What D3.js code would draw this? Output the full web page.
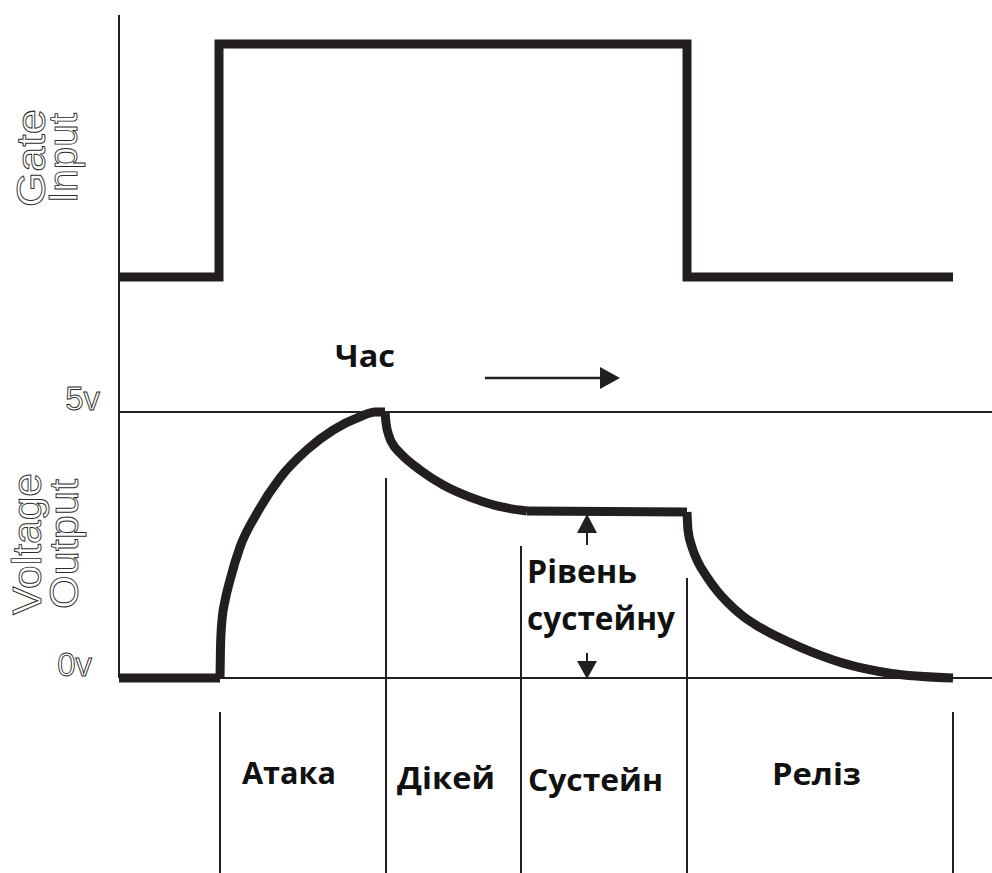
<!DOCTYPE html>
<html>
<head>
<meta charset="utf-8">
<script src="https://cdn.jsdelivr.net/npm/d3@7"></script>
<style>
  body { margin: 0; background: #fff; }
  svg { display: block; }
  .outline { font-family: "Liberation Sans", Arial, sans-serif; fill: #fff; stroke: #2a2a2a; stroke-width: 0.9px; }
  .bold { font-family: "Open Sans", "Noto Sans", sans-serif; font-weight: 700; fill: #111; }
</style>
</head>
<body>
<div id="chart"></div>
<script>
// часові точки в мс (1 мс = 1 px), напруга у вольтах
const gatePts = [[0, 0], [100, 0], [100, 1], [568, 1], [568, 0], [834, 0]];

const idlePts = [[0, 0], [101, 0]];
const attackPts = [[101, 0], [101.5, 0.58], [103, 1.09], [106, 1.45], [111, 1.84], [121, 2.46],
  [138, 3.10], [161, 3.76], [188, 4.29], [214, 4.66], [241, 4.91], [256, 5.0], [266, 5.0]];
const decayPts = [[266, 5.0], [267, 4.8], [270, 4.55], [275, 4.36], [281, 4.23], [301, 3.91],
  [324, 3.63], [351, 3.40], [384, 3.21], [408, 3.14]];
const sustainPts = [[408, 3.14], [568, 3.12]];
const releasePts = [[568, 3.12], [569, 2.78], [573, 2.46], [579, 2.18], [588, 1.90], [598, 1.64],
  [608, 1.43], [624, 1.16], [641, 0.95], [681, 0.58], [724, 0.28], [771, 0.09], [834, 0]];

const phaseBounds = [101, 267, 402, 568, 834];
const phaseNames = ["Атака", "Дікей", "Сустейн", "Реліз"];
const voltTicks = [0, 5];
const sustainLevel = 3.12;

const width = 992, height = 873;
const ink = "#231f20";

const svg = d3.select("#chart").append("svg")
  .attr("width", width).attr("height", height);

const x = d3.scaleLinear().domain([0, 834]).range([119, 953]);
const yGate = d3.scaleLinear().domain([0, 1]).range([277, 44]);
const yV = d3.scaleLinear().domain([0, 5]).range([678, 412]);

// ліва вісь
svg.append("line").attr("x1", x(0)).attr("x2", x(0)).attr("y1", 15).attr("y2", yV(0))
  .attr("stroke", ink).attr("stroke-width", 2);

// рівні 0v / 5v
svg.selectAll(".vline").data(voltTicks).join("line").attr("class", "vline")
  .attr("x1", x(0)).attr("x2", width)
  .attr("y1", d => yV(d)).attr("y2", d => yV(d))
  .attr("stroke", ink).attr("stroke-width", 2);

svg.selectAll(".vlabel").data(voltTicks).join("text").attr("class", "vlabel outline")
  .attr("x", d => d === 5 ? 100 : 92)
  .attr("y", d => yV(d) - 2)
  .attr("text-anchor", "end")
  .style("font-size", "33px")
  .text(d => d + "v");

// вертикальні розділювачі фаз
const dividerTop = [712, 478, 546, 578, 712];
svg.selectAll(".divider").data(phaseBounds).join("line").attr("class", "divider")
  .attr("x1", d => x(d)).attr("x2", d => x(d))
  .attr("y1", (d, i) => dividerTop[i]).attr("y2", height)
  .attr("stroke", ink).attr("stroke-width", 2);

// сигнал gate
const line = d3.line().x(d => x(d[0])).y(d => yGate(d[1]));
svg.append("path").datum(gatePts).attr("d", line)
  .attr("fill", "none").attr("stroke", ink).attr("stroke-width", 9)
  .attr("stroke-linejoin", "miter");

// огинаюча
const env = d3.line().x(d => x(d[0])).y(d => yV(d[1])).curve(d3.curveMonotoneX);
[idlePts, attackPts, decayPts, sustainPts, releasePts].forEach(pts => {
  svg.append("path").datum(pts).attr("d", env)
    .attr("fill", "none").attr("stroke", ink).attr("stroke-width", 9)
    .attr("stroke-linejoin", "round");
});

// підписи осей
function axisLabel(lines, cy, xs, lens) {
  lines.forEach((t, i) => {
    svg.append("text").attr("class", "outline")
      .attr("transform", `translate(${xs[i]},${cy}) rotate(-90)`)
      .attr("text-anchor", "middle")
      .attr("textLength", lens[i]).attr("lengthAdjust", "spacingAndGlyphs")
      .style("font-size", "40px")
      .text(t);
  });
}
axisLabel(["Gate", "Input"], 158, [45, 77], [98, 90]);
axisLabel(["Voltage", "Output"], 544, [41, 78], [142, 130]);

// час →
svg.append("text").attr("class", "bold")
  .attr("x", 335).attr("y", 367).attr("textLength", 60).attr("lengthAdjust", "spacingAndGlyphs")
  .style("font-size", "31px").text("Час");

svg.append("line").attr("x1", 485).attr("x2", 604).attr("y1", 378).attr("y2", 378)
  .attr("stroke", ink).attr("stroke-width", 2.5);
svg.append("path").attr("d", "M600,367 L620,378 L600,389 Z").attr("fill", ink);

// рівень сустейну
const sx = x(468);
svg.append("line").attr("x1", sx).attr("x2", sx).attr("y1", yV(sustainLevel) + 18).attr("y2", 545)
  .attr("stroke", ink).attr("stroke-width", 2);
svg.append("path").attr("d", `M${sx},${yV(sustainLevel) + 2} L${sx + 10},${yV(sustainLevel) + 21} L${sx - 10},${yV(sustainLevel) + 21} Z`)
  .attr("fill", ink);
svg.append("line").attr("x1", sx).attr("x2", sx).attr("y1", 653).attr("y2", yV(0) - 12)
  .attr("stroke", ink).attr("stroke-width", 2);
svg.append("path").attr("d", `M${sx},${yV(0) + 1} L${sx + 10},${yV(0) - 17} L${sx - 10},${yV(0) - 17} Z`)
  .attr("fill", ink);

svg.append("text").attr("class", "bold")
  .attr("x", 527).attr("y", 583).attr("textLength", 110).attr("lengthAdjust", "spacingAndGlyphs")
  .style("font-size", "32px").text("Рівень");
svg.append("text").attr("class", "bold")
  .attr("x", 527).attr("y", 630).attr("textLength", 148).attr("lengthAdjust", "spacingAndGlyphs")
  .style("font-size", "32px").text("сустейну");

// назви фаз
const labelLeft = [242, 397, 528, 772];
const labelBase = [784, 789, 791, 785];
const labelLen = [94, 98, 135, 89];
svg.selectAll(".phase").data(phaseNames).join("text").attr("class", "phase bold")
  .attr("x", (d, i) => labelLeft[i]).attr("y", (d, i) => labelBase[i])
  .attr("textLength", (d, i) => labelLen[i]).attr("lengthAdjust", "spacingAndGlyphs")
  .style("font-size", "31px")
  .text(d => d);
</script>
</body>
</html>
